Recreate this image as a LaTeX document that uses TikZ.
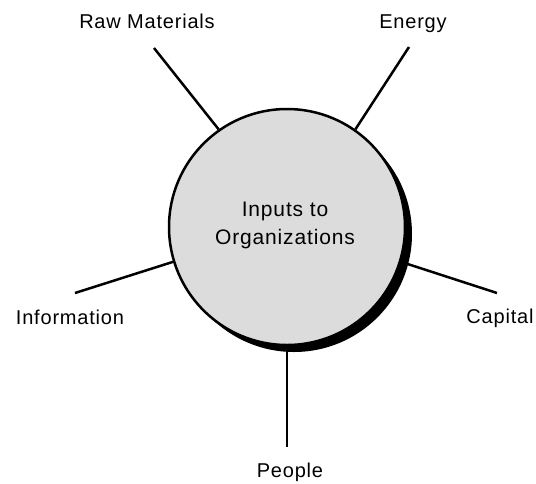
\documentclass[tikz,border=0pt]{standalone}
\usepackage{fontspec}
\setmainfont{Liberation Sans}[LetterSpace=4]
\begin{document}
\begin{tikzpicture}[x=1pt,y=-1pt,
  every node/.style={font=\fontsize{20}{26}\selectfont, inner sep=0pt},
  spoke/.style={line width=2.5pt, black},
  inputlabel/.style={anchor=base},
  hub/.style={circle, draw=black, line width=2.5pt, fill=hubgray, minimum size=236pt},
  hubshadow/.style={circle, fill=black, minimum size=236pt}]
\definecolor{hubgray}{RGB}{220,220,220}
\useasboundingbox (0,0) rectangle (536,483);
% drop shadow, then the central circle on top
\node[hubshadow] (shadow) at (294,234) {};
\node[hub] (hub) at (287,227) {};
\node[align=center, anchor=base, font=\fontsize{21}{28}\selectfont] (title) at (285,244) {Inputs to\\Organizations};
% free ends of the spokes
\coordinate (rawEnd) at (154,48);
\coordinate (energyEnd) at (409,47);
\coordinate (infoEnd) at (75,293);
\coordinate (capitalEnd) at (497,293);
\coordinate (peopleEnd) at (287,447);
\draw[spoke] (hub.125) -- (rawEnd);
\draw[spoke] (hub.55) -- (energyEnd);
\draw[spoke] (hub.197) -- (infoEnd);
\draw[spoke] (hub.-17) -- (capitalEnd);
\draw[spoke] (hub.south) -- (peopleEnd);
% labels
\node[inputlabel] (raw) at (147,28) {Raw Materials};
\node[inputlabel] (energy) at (413,28) {Energy};
\node[inputlabel] (info) at (70,324) {Information};
\node[inputlabel] (capital) at (500,323) {Capital};
\node[inputlabel] (people) at (290,477) {People};
\end{tikzpicture}
\end{document}
